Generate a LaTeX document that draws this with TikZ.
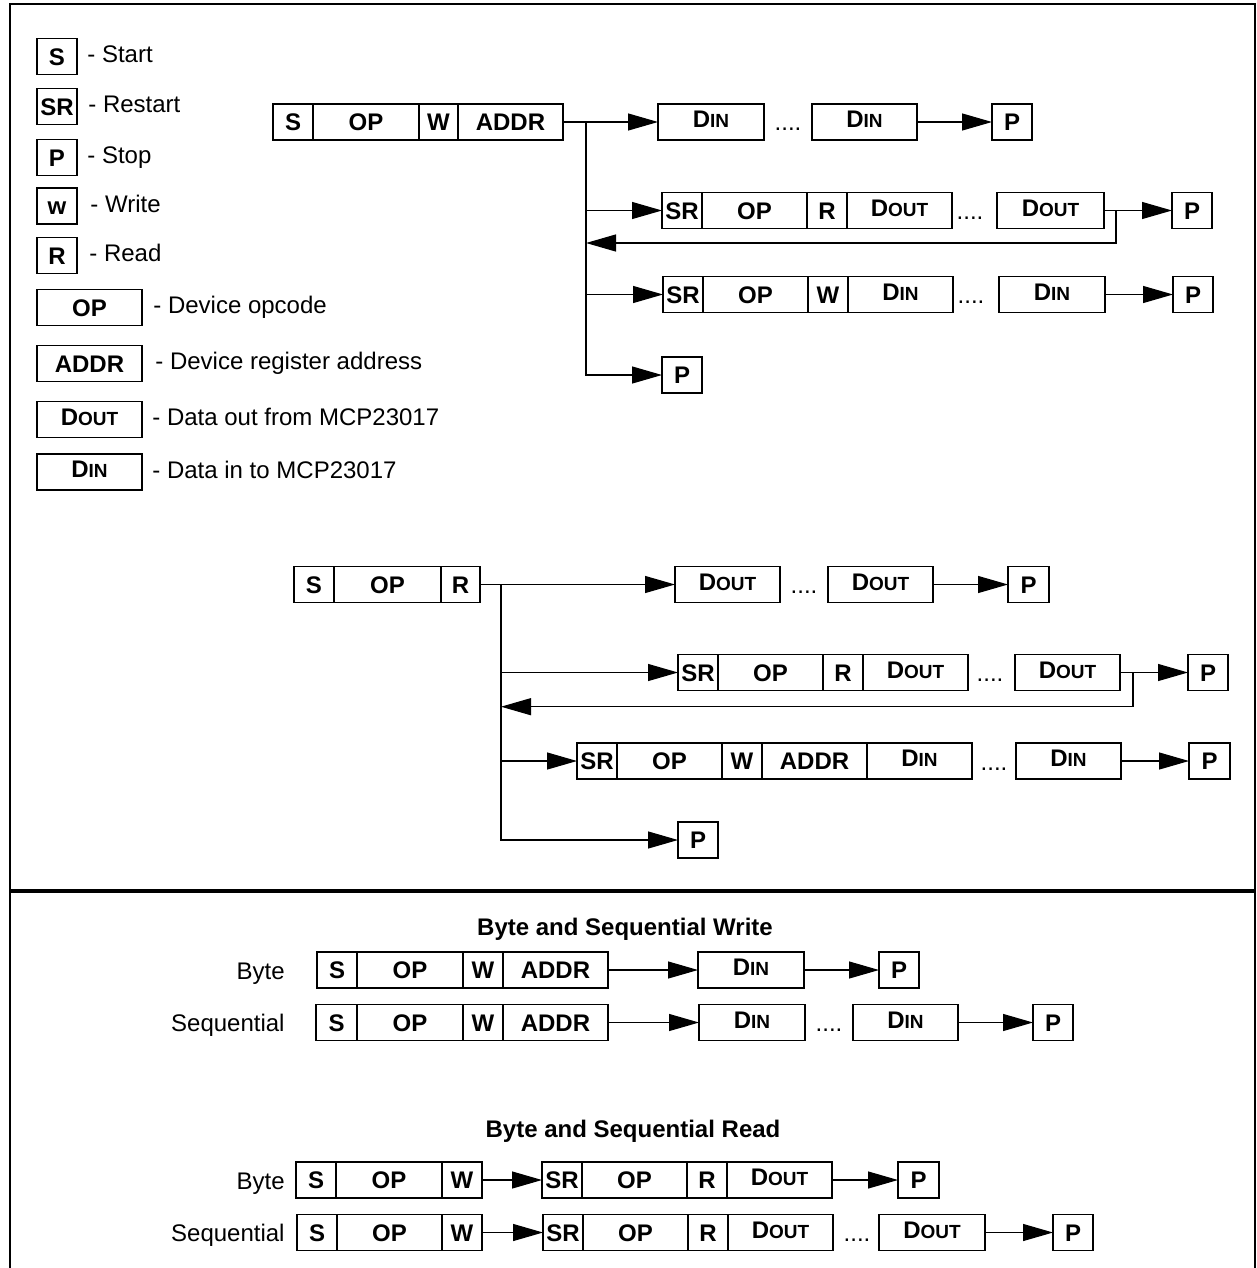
\documentclass[tikz,border=0pt]{standalone}
\usepackage{fontspec}
\setmainfont{Liberation Sans}
\usepackage{tikz}
\usetikzlibrary{arrows.meta,positioning}
\newcommand{\Dout}{\raisebox{1.5pt}{D{\fontsize{9.5pt}{10pt}\selectfont OUT}}}
\newcommand{\Din}{\raisebox{1.5pt}{D{\fontsize{9.5pt}{10pt}\selectfont IN}}}
\tikzset{
  fld/.style={draw,line width=0.75pt,minimum height=18pt,inner sep=0pt,outer sep=0pt,
    font=\fontsize{12pt}{14pt}\selectfont\bfseries,text height=8.6pt,text depth=0pt},
  keytext/.style={inner sep=0pt,font=\fontsize{12pt}{14pt}\selectfont},
  title/.style={inner sep=0pt,font=\fontsize{12pt}{14pt}\selectfont\bfseries},
  dots/.style={inner sep=0pt,font=\fontsize{12pt}{14pt}\selectfont},
  flow/.style={-{Triangle[length=15pt,width=8.5pt]},line width=0.6pt},
  frame/.style={line width=1pt}
}

\begin{document}
\begin{tikzpicture}[x=0.5pt,y=-0.5pt]
  \useasboundingbox (0,0) rectangle (1257,1268);
  % outer frame and divider
  \draw[frame] (10,1270) -- (10,4) -- (1255,4) -- (1255,1270);
  \draw[line width=1.75pt] (10,891) -- (1255,891);

  % legend
  \foreach \n/\y/\w/\lab/\tx/\txt in {kS/56.5/40/S/87/- Start,kSR/106.5/40/SR/88/- Restart,
      kP/157.5/40/P/87/- Stop,kW/206/40/w/90/- Write,kR/255.5/40/R/89/- Read,
      kOP/307.5/105/OP/153/- Device opcode,kAD/363.5/105/ADDR/155/- Device register address,
      kDO/419.5/105/\Dout/152/- Data out from MCP23017,kDI/472/105/\Din/152/- Data in to MCP23017}
  {
    \node[fld,minimum width=0.5pt*\w,anchor=west] (\n) at (37,\y) {\lab};
    \node[keytext,anchor=base west] (\n-t) at (\tx,\y+6) {\txt};
  }

  % write command tree
  \foreach \n/\x/\w/\lab in {aS/273/40/S,aOP/313/106/OP,aW/419/39/W,aAD/458/105/ADDR,
      a1D/658/106/\Din,a1E/812/105/\Din,a1P/992/40/P}
    \node[fld,minimum width=0.5pt*\w,anchor=west] (\n) at (\x,122) {\lab};
  \foreach \n/\x/\w/\lab in {a2S/662/40/SR,a2O/702/105/OP,a2R/807/40/R,a2D/847/105/\Dout,
      a2E/997/107/\Dout,a2P/1172/40/P}
    \node[fld,minimum width=0.5pt*\w,anchor=west] (\n) at (\x,210.5) {\lab};
  \foreach \n/\x/\w/\lab in {a3S/663/40/SR,a3O/703/105/OP,a3W/808/40/W,a3D/848/105/\Din,
      a3E/999/106/\Din,a3P/1173/40/P}
    \node[fld,minimum width=0.5pt*\w,anchor=west] (\n) at (\x,294.5) {\lab};
  \node[fld,minimum width=20pt,anchor=west] (a4P) at (662,375) {P};
  \node[dots,anchor=base] (a1d) at (788,131) {....};
  \node[dots,anchor=base] (a2d) at (970,219.5) {....};
  \node[dots,anchor=base] (a3d) at (971,303.5) {....};
  \coordinate (ta) at (586,122);
  \coordinate (ra) at (1116,243);
  \draw[flow] (aAD) -- (a1D);
  \draw[flow] (ta) |- (a2S.west);
  \draw[flow] (ta) |- (a3S.west);
  \draw[flow] (ta) |- (a4P.west);
  \draw[flow] (a1E) -- (a1P);
  \draw[flow] (a2E) -- (a2P);
  \draw[flow] (a3E) -- (a3P);
  \draw[flow] (a2E.east -| ra) -- (ra) -- (ra -| ta);

  % read command tree
  \foreach \n/\x/\w/\lab in {bS/294/40/S,bOP/334/107/OP,bR/441/39/R,
      b1D/675/105/\Dout,b1E/828/105/\Dout,b1P/1008/41/P}
    \node[fld,minimum width=0.5pt*\w,anchor=west] (\n) at (\x,584.5) {\lab};
  \foreach \n/\x/\w/\lab in {b2S/678/40/SR,b2O/718/105/OP,b2R/823/40/R,b2D/863/105/\Dout,
      b2E/1015/105/\Dout,b2P/1188/40/P}
    \node[fld,minimum width=0.5pt*\w,anchor=west] (\n) at (\x,672.5) {\lab};
  \foreach \n/\x/\w/\lab in {b3S/577/40/SR,b3O/617/105/OP,b3W/722/40/W,b3A/762/105/ADDR,
      b3D/867/105/\Din,b3E/1016/105/\Din,b3P/1189/41/P}
    \node[fld,minimum width=0.5pt*\w,anchor=west] (\n) at (\x,761) {\lab};
  \node[fld,minimum width=20pt,anchor=west] (b4P) at (678,840) {P};
  \node[dots,anchor=base] (b1d) at (804,593.5) {....};
  \node[dots,anchor=base] (b2d) at (990,681.5) {....};
  \node[dots,anchor=base] (b3d) at (994,770) {....};
  \coordinate (tb) at (501,584.5);
  \coordinate (rb) at (1133,706.7);
  \draw[flow] (bR) -- (b1D);
  \draw[flow] (tb) |- (b2S.west);
  \draw[flow] (tb) |- (b3S.west);
  \draw[flow] (tb) |- (b4P.west);
  \draw[flow] (b1E) -- (b1P);
  \draw[flow] (b2E) -- (b2P);
  \draw[flow] (b3E) -- (b3P);
  \draw[flow] (b2E.east -| rb) -- (rb) -- (rb -| tb);

  % byte and sequential write
  \node[title] (tw) at (625,929) {Byte and Sequential Write};
  \node[keytext,anchor=base east] (wl) at (285,979) {Byte};
  \foreach \n/\x/\w/\lab in {wS/317/40/S,wO/357/106/OP,wW/463/40/W,wA/503/105/ADDR,
      w1D/698/106/\Din,w1P/879/40/P}
    \node[fld,minimum width=0.5pt*\w,anchor=west] (\n) at (\x,970) {\lab};
  \node[keytext,anchor=base east] (vl) at (285,1031.5) {Sequential};
  \foreach \n/\x/\w/\lab in {vS/316/41/S,vO/357/106/OP,vW/463/40/W,vA/503/105/ADDR,
      v1D/699/106/\Din,v1E/853/105/\Din,v1P/1033/40/P}
    \node[fld,minimum width=0.5pt*\w,anchor=west] (\n) at (\x,1022.5) {\lab};
  \node[dots,anchor=base] (v1d) at (829,1031.5) {....};
  \draw[flow] (wA) -- (w1D);
  \draw[flow] (w1D) -- (w1P);
  \draw[flow] (vA) -- (v1D);
  \draw[flow] (v1E) -- (v1P);

  % byte and sequential read
  \node[title] (tr) at (633,1131) {Byte and Sequential Read};
  \node[keytext,anchor=base east] (rl) at (285,1189) {Byte};
  \foreach \n/\x/\w/\lab in {rS/296/40/S,rO/336/106/OP,rW/442/40/W,rSR/542/40/SR,
      rO2/582/105/OP,rR/687/40/R,rD/727/105/\Dout,rP/898/41/P}
    \node[fld,minimum width=0.5pt*\w,anchor=west] (\n) at (\x,1180) {\lab};
  \node[keytext,anchor=base east] (ql) at (285,1241.5) {Sequential};
  \foreach \n/\x/\w/\lab in {qS/297/40/S,qO/337/105/OP,qW/442/40/W,qSR/543/40/SR,
      qO2/583/105/OP,qR/688/40/R,qD/728/105/\Dout,qE/879/106/\Dout,qP/1053/40/P}
    \node[fld,minimum width=0.5pt*\w,anchor=west] (\n) at (\x,1232.5) {\lab};
  \node[dots,anchor=base] (qd) at (857,1241.5) {....};
  \draw[flow] (rW) -- (rSR);
  \draw[flow] (rD) -- (rP);
  \draw[flow] (qW) -- (qSR);
  \draw[flow] (qE) -- (qP);
\end{tikzpicture}
\end{document}
